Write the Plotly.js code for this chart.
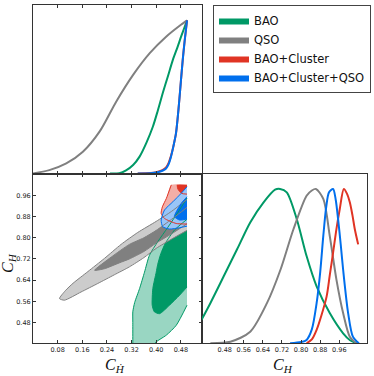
<!DOCTYPE html>
<html>
<head>
<meta charset="utf-8">
<script src="https://cdn.plot.ly/plotly-3.0.1.min.js"></script>
<style>
  html, body { margin: 0; padding: 0; background: #fff; }
  #chart { width: 374px; height: 376px; }
</style>
</head>
<body>
<div id="chart"></div>
<script>
// series: BAO, QSO, BAO+Cluster, BAO+Cluster+QSO
const names = ['BAO', 'QSO', 'BAO+Cluster', 'BAO+Cluster+QSO'];
const colors = ['#009966', '#808080', '#e03424', '#006fed'];
const lightColors = ['#99d6c2', '#cccccc', '#f3aea7', '#99c5f8'];

const hdotTicks = [0.08, 0.16, 0.24, 0.32, 0.40, 0.48];
const chTicks = [0.48, 0.56, 0.64, 0.72, 0.80, 0.88, 0.96];

// marginal of C_Hdot (top left)
const hdotX_bao = [0.25, 0.28, 0.302, 0.325, 0.346, 0.368, 0.389, 0.405, 0.421, 0.438, 0.454, 0.47, 0.481, 0.491, 0.5];
const hdotP_bao = [0, 0.002, 0.02, 0.055, 0.11, 0.2, 0.305, 0.41, 0.524, 0.635, 0.742, 0.83, 0.895, 0.95, 1.0];
const hdotX_qso = [0, 0.053, 0.108, 0.162, 0.216, 0.27, 0.325, 0.379, 0.433, 0.476, 0.5];
const hdotP_qso = [0, 0.022, 0.066, 0.142, 0.273, 0.469, 0.644, 0.786, 0.895, 0.965, 1.0];
const hdotX_cl = [0.34, 0.38, 0.40, 0.42, 0.432, 0.44, 0.448, 0.456, 0.464, 0.47, 0.475, 0.48, 0.486, 0.492, 0.5];
const hdotP_cl = [0, 0.003, 0.008, 0.022, 0.04, 0.068, 0.115, 0.18, 0.26, 0.37, 0.48, 0.6, 0.74, 0.86, 1.0];
const hdotX_all = [0.34, 0.38, 0.40, 0.42, 0.432, 0.44, 0.448, 0.456, 0.464, 0.47, 0.475, 0.48, 0.486, 0.492, 0.5];
const hdotP_all = [0, 0.002, 0.006, 0.018, 0.033, 0.06, 0.11, 0.18, 0.26, 0.37, 0.48, 0.6, 0.74, 0.86, 1.0];

// marginal of C_H (bottom right)
const chX_bao = [0.383, 0.42, 0.476, 0.532, 0.587, 0.643, 0.691, 0.712, 0.74, 0.782, 0.823, 0.865, 0.92, 0.976, 1.005, 1.032];
const chP_bao = [0.152, 0.26, 0.434, 0.609, 0.783, 0.913, 0.995, 1.0, 0.978, 0.804, 0.565, 0.369, 0.196, 0.065, 0.02, 0];
const chX_qso = [0.42, 0.504, 0.587, 0.657, 0.714, 0.768, 0.823, 0.845, 0.862, 0.893, 0.92, 0.948, 0.976, 1.004, 1.032];
const chP_qso = [0, 0.01, 0.075, 0.26, 0.478, 0.739, 0.956, 0.99, 1.0, 0.935, 0.696, 0.413, 0.196, 0.043, 0];
const chX_cl = [0.823, 0.845, 0.865, 0.885, 0.907, 0.92, 0.934, 0.948, 0.962, 0.979, 0.992, 1.004, 1.015, 1.025, 1.039];
const chP_cl = [0, 0.025, 0.087, 0.18, 0.304, 0.44, 0.587, 0.74, 0.87, 1.0, 0.97, 0.913, 0.83, 0.739, 0.641];
const chX_all = [0.754, 0.8, 0.823, 0.845, 0.865, 0.88, 0.893, 0.905, 0.917, 0.934, 0.945, 0.955, 0.966, 0.976, 0.997, 1.017, 1.042];
const chP_all = [0, 0.008, 0.022, 0.09, 0.26, 0.46, 0.696, 0.88, 0.978, 1.0, 0.93, 0.804, 0.64, 0.478, 0.196, 0.043, 0];

// 2D contours (C_Hdot, C_H): outer = 95%, inner = 68%
const baoOuterX = [0.5, 0.47, 0.438, 0.405, 0.378, 0.362, 0.346, 0.33, 0.324, 0.324, 0.324, 0.324, 0.39, 0.394, 0.433, 0.465, 0.5];
const baoOuterY = [0.95, 0.895, 0.84, 0.785, 0.734, 0.67, 0.608, 0.555, 0.52, 0.48, 0.40, 0.37, 0.37, 0.40, 0.432, 0.469, 0.545];
const baoInnerX = [0.5, 0.46, 0.43, 0.415, 0.405, 0.4, 0.389, 0.387, 0.394, 0.411, 0.443, 0.476, 0.5];
const baoInnerY = [0.87, 0.83, 0.78, 0.74, 0.70, 0.67, 0.608, 0.545, 0.52, 0.513, 0.545, 0.583, 0.614];
const qsoOuterX = [0.5, 0.45, 0.4, 0.34, 0.286, 0.232, 0.178, 0.13, 0.105, 0.086, 0.102, 0.156, 0.21, 0.264, 0.313, 0.36, 0.4, 0.45, 0.5];
const qsoOuterY = [0.945, 0.9, 0.862, 0.82, 0.775, 0.722, 0.672, 0.628, 0.60, 0.57, 0.564, 0.595, 0.627, 0.66, 0.69, 0.725, 0.76, 0.795, 0.828];
const qsoInnerX = [0.5, 0.45, 0.4, 0.36, 0.313, 0.254, 0.2, 0.232, 0.28, 0.313, 0.36, 0.4, 0.45, 0.5];
const qsoInnerY = [0.915, 0.87, 0.828, 0.80, 0.775, 0.727, 0.677, 0.683, 0.705, 0.72, 0.748, 0.78, 0.815, 0.853];
const clOuterX = [0.5, 0.449, 0.433, 0.42, 0.416, 0.427, 0.465, 0.5];
const clOuterY = [1.0, 1.0, 0.949, 0.917, 0.892, 0.873, 0.854, 0.852];
const clInnerX = [0.5, 0.468, 0.47, 0.482, 0.5];
const clInnerY = [1.0, 1.0, 0.985, 0.968, 0.965];
const allOuterX = [0.5, 0.481, 0.454, 0.427, 0.416, 0.421, 0.443, 0.476, 0.5];
const allOuterY = [0.993, 0.968, 0.936, 0.905, 0.867, 0.842, 0.833, 0.838, 0.844];
const allInnerX = [0.5, 0.481, 0.465, 0.459, 0.476, 0.5];
const allInnerY = [0.955, 0.93, 0.898, 0.88, 0.867, 0.871];

const hdot1d = [[hdotX_bao, hdotP_bao], [hdotX_qso, hdotP_qso], [hdotX_cl, hdotP_cl], [hdotX_all, hdotP_all]];
const ch1d = [[chX_bao, chP_bao], [chX_qso, chP_qso], [chX_cl, chP_cl], [chX_all, chP_all]];
const outer2d = [[baoOuterX, baoOuterY], [qsoOuterX, qsoOuterY], [clOuterX, clOuterY], [allOuterX, allOuterY]];
const inner2d = [[baoInnerX, baoInnerY], [qsoInnerX, qsoInnerY], [clInnerX, clInnerY], [allInnerX, allInnerY]];

const traces = [];

// filled contours first, then all contour lines on top (like matplotlib zorder)
for (let i = 0; i < 4; i++) {
    traces.push({
        x: outer2d[i][0], y: outer2d[i][1], xaxis: 'x2', yaxis: 'y2',
        mode: 'lines', fill: 'toself', fillcolor: lightColors[i],
        line: {width: 0, shape: 'spline', smoothing: 0.6},
        hoverinfo: 'skip', showlegend: false
    });
    traces.push({
        x: inner2d[i][0], y: inner2d[i][1], xaxis: 'x2', yaxis: 'y2',
        mode: 'lines', fill: 'toself', fillcolor: colors[i],
        line: {width: 0, shape: 'spline', smoothing: 0.6},
        name: names[i], hoverinfo: 'skip', showlegend: true
    });
}
for (let i = 0; i < 4; i++) {
    const start = i === 2 ? 1 : 0;
    traces.push({
        x: outer2d[i][0].slice(start), y: outer2d[i][1].slice(start), xaxis: 'x2', yaxis: 'y2',
        mode: 'lines', line: {color: colors[i], width: 1, shape: 'spline', smoothing: 0.6},
        hoverinfo: 'skip', showlegend: false
    });
    traces.push({
        x: inner2d[i][0].slice(start), y: inner2d[i][1].slice(start), xaxis: 'x2', yaxis: 'y2',
        mode: 'lines', line: {color: colors[i], width: 1, shape: 'spline', smoothing: 0.6},
        hoverinfo: 'skip', showlegend: false
    });
}

for (let i = 0; i < 4; i++) {
    traces.push({
        x: hdot1d[i][0], y: hdot1d[i][1], xaxis: 'x', yaxis: 'y',
        mode: 'lines', line: {color: colors[i], width: 2, shape: 'spline', smoothing: 0.8},
        hoverinfo: 'skip', showlegend: false
    });
    traces.push({
        x: ch1d[i][0], y: ch1d[i][1], xaxis: 'x3', yaxis: 'y3',
        mode: 'lines', line: {color: colors[i], width: 2, shape: 'spline', smoothing: 0.8},
        hoverinfo: 'skip', showlegend: false
    });
}

const tickFont = {family: 'DejaVu Sans', size: 6.5, color: '#222'};
const labelFont = {family: 'Liberation Serif, DejaVu Serif', size: 16, color: '#111'};
const frame = {showline: true, linecolor: '#333', linewidth: 1, showgrid: false, zeroline: false, automargin: false};
const colL = [33 / 374, 201.5 / 374];
const colR = [201.5 / 374, 367 / 374];
const rowT = [(376 - 173.5) / 376, (376 - 5) / 376];
const rowB = [(376 - 343.3) / 376, (376 - 173.5) / 376];

const layout = {
    width: 374, height: 376,
    margin: {l: 0, r: 0, t: 0, b: 0},
    paper_bgcolor: '#fff', plot_bgcolor: '#fff',
    xaxis: Object.assign({}, frame, {domain: colL, anchor: 'y', range: [0, 0.547], tickvals: hdotTicks,
        ticks: 'inside', ticklen: 3, tickcolor: '#333', mirror: 'ticks', showticklabels: false}),
    yaxis: Object.assign({}, frame, {domain: rowT, anchor: 'x', range: [0, 1.1], ticks: '', showticklabels: false, mirror: true}),
    xaxis2: Object.assign({}, frame, {domain: colL, anchor: 'y2', range: [0, 0.547], tickvals: hdotTicks,
        tickformat: '.2f', ticks: 'inside', ticklen: 3, tickcolor: '#333', mirror: 'ticks', tickfont: tickFont}),
    yaxis2: Object.assign({}, frame, {domain: rowB, anchor: 'x2', range: [0.401, 1.043], tickvals: chTicks,
        tickformat: '.2f', ticks: 'inside', ticklen: 3, tickcolor: '#333', mirror: 'ticks', tickfont: tickFont}),
    xaxis3: Object.assign({}, frame, {domain: colR, anchor: 'y3', range: [0.383, 1.076], tickvals: chTicks,
        tickformat: '.2f', ticks: 'inside', ticklen: 3, tickcolor: '#333', mirror: true, tickfont: tickFont}),
    yaxis3: Object.assign({}, frame, {domain: rowB, anchor: 'x3', range: [0, 1.1], ticks: '', showticklabels: false, mirror: true}),
    annotations: [
        {text: '<i>C<sub>Ḣ</sub></i>', xref: 'paper', yref: 'paper', x: 115 / 374, y: (376 - 365) / 376,
            xanchor: 'center', yanchor: 'middle', showarrow: false, font: labelFont},
        {text: '<i>C<sub>H</sub></i>', xref: 'paper', yref: 'paper', x: 283 / 374, y: (376 - 365) / 376,
            xanchor: 'center', yanchor: 'middle', showarrow: false, font: labelFont},
        {text: '<i>C<sub>H</sub></i>', xref: 'paper', yref: 'paper', x: 8 / 374, y: (376 - 263) / 376,
            xanchor: 'center', yanchor: 'middle', textangle: -90, showarrow: false, font: labelFont}
    ],
    showlegend: true,
    legend: {
        x: 213 / 374, y: 371 / 376, xanchor: 'left', yanchor: 'top',
        bgcolor: '#fff', bordercolor: '#444', borderwidth: 1,
        font: {family: 'DejaVu Sans', size: 11.5, color: '#111'},
        itemwidth: 30, tracegroupgap: 0
    }
};

Plotly.newPlot('chart', traces, layout, {staticPlot: true, displayModeBar: false});
</script>
</body>
</html>
